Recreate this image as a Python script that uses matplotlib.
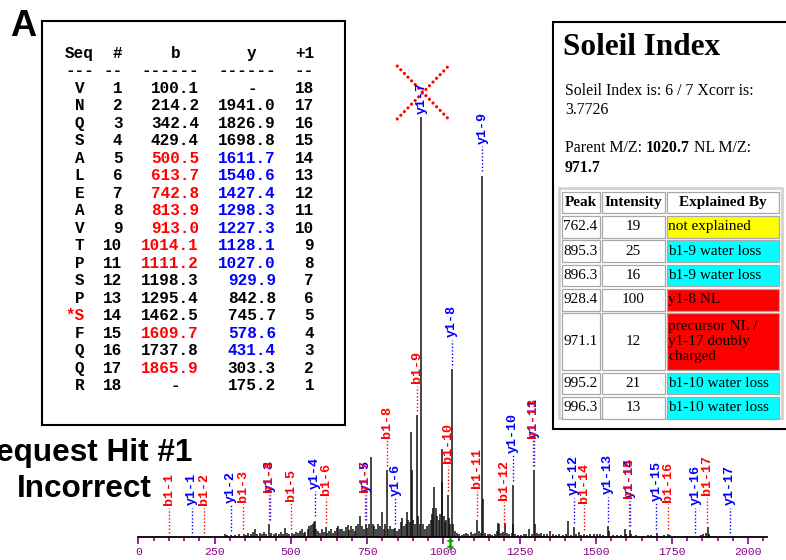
import matplotlib.pyplot as plt
from matplotlib.patches import Rectangle

W, H = 786, 560

# spectrum peaks: m/z and relative intensity (%)
peak_mz = [284, 292, 303, 318, 330, 345, 352, 360, 368, 375, 382, 390, 398, 405, 413, 420,
           429, 436, 445, 452, 460, 468, 475, 481, 488, 494, 503, 510, 517, 524, 530, 535,
           542, 548, 555, 560, 566, 571, 575, 579, 584, 590, 596, 602, 608, 614, 620, 626,
           632, 638, 644, 650, 656, 662, 668, 674, 680, 686, 692, 697, 703, 709, 715, 721,
           727, 733, 739, 745, 750, 756, 762.4, 768, 774, 780, 786, 792, 798, 804, 808, 814,
           820, 826, 832, 838, 843, 848, 854, 860, 866, 871, 876, 880, 885, 890, 895.3, 896.3,
           902, 907, 913, 918, 923, 928.4, 934, 940, 946, 952, 958, 962, 966, 971.1, 975, 980,
           985, 990, 995.2, 996.3, 1001, 1005, 1010, 1014, 1018, 1022, 1027, 1032, 1038, 1045,
           1052, 1060, 1068, 1075, 1082, 1090, 1098, 1105, 1111, 1116, 1122, 1128, 1131, 1138,
           1145, 1152, 1160, 1168, 1175, 1180, 1184, 1190, 1197, 1203, 1210, 1216, 1224, 1227,
           1230, 1236, 1245, 1255, 1264, 1272, 1282, 1290, 1298, 1301, 1308, 1315, 1322, 1330,
           1340, 1350, 1360, 1370, 1380, 1392, 1402, 1410, 1418, 1428, 1434, 1444, 1452, 1462,
           1472, 1482, 1494, 1505, 1515, 1525, 1541, 1545, 1556, 1570, 1583, 1596, 1600, 1612,
           1616, 1632, 1650, 1670, 1680, 1690, 1700, 1712, 1725, 1738, 1742, 1760, 1800, 1845,
           1852, 1862, 1869, 1873]
peak_int = [0.6, 0.4, 0.5, 0.4, 0.6, 0.8, 0.5, 1.0, 0.6, 1.2, 2.0, 0.8, 1.0, 0.6, 1.2, 0.8,
            3.0, 1.0, 0.7, 1.0, 0.8, 1.2, 0.8, 2.2, 1.0, 0.6, 1.0, 0.8, 1.2, 1.0, 1.5, 1.8,
            1.0, 1.2, 2.0, 2.5, 2.8, 3.2, 3.5, 3.9, 2.0, 1.4, 1.0, 1.8, 1.2, 2.4, 1.0, 1.5,
            2.0, 1.0, 1.4, 2.2, 2.6, 1.8, 2.0, 1.5, 2.4, 2.8, 1.6, 2.7, 2.0, 1.5, 2.5, 3.0,
            5.0, 2.7, 2.0, 3.0, 2.2, 3.0, 19, 3.0, 2.5, 2.0, 3.0, 2.5, 6.0, 2.0, 3.0, 16,
            2.0, 2.5, 1.8, 2.0, 2.2, 1.5, 2.0, 3.5, 4.5, 2.5, 3.0, 6.0, 4.0, 3.5, 25, 16,
            4.0, 3.0, 29, 5.0, 3.0, 100, 3.0, 2.0, 2.5, 3.0, 4.0, 5.5, 7.0, 12, 7.0, 5.0,
            4.0, 5.5, 21, 13, 5.0, 3.5, 4.0, 10, 4.5, 3.0, 40, 3.0, 1.5, 1.0,
            0.8, 0.5, 0.8, 1.0, 0.6, 1.2, 0.8, 1.0, 4.0, 1.5, 1.0, 86, 9.0, 1.0,
            0.6, 0.8, 0.5, 0.7, 1.5, 3.3, 3.0, 1.0, 1.3, 3.3, 1.0, 0.6, 1.0, 12.4,
            3.0, 0.8, 0.5, 0.4, 0.6, 0.8, 2.0, 0.8, 16, 3.0, 1.0, 0.8, 1.0, 0.6,
            0.8, 1.5, 0.6, 0.5, 0.7, 0.4, 0.6, 3.8, 0.5, 2.4, 0.8, 1.2, 0.5, 0.6,
            0.4, 0.6, 0.8, 0.6, 0.8, 0.5, 2.6, 1.5, 0.5, 0.4, 0.5, 2.0, 0.6, 1.6,
            0.8, 0.4, 0.3, 0.5, 0.4, 0.3, 1.0, 0.3, 0.4, 0.8, 0.5, 0.3, 0.3, 0.5,
            0.6, 1.0, 2.4, 0.6]

# fragment table
seq = ['V', 'N', 'Q', 'S', 'A', 'L', 'E', 'A', 'V', 'T', 'P', 'S', 'P', 'S', 'F', 'Q', 'Q', 'R']
b_ions = [100.1, 214.2, 342.4, 429.4, 500.5, 613.7, 742.8, 813.9, 913.0, 1014.1, 1111.2,
          1198.3, 1295.4, 1462.5, 1609.7, 1737.8, 1865.9, None]
y_ions = [None, 1941.0, 1826.9, 1698.8, 1611.7, 1540.6, 1427.4, 1298.3, 1227.3, 1128.1,
          1027.0, 929.9, 842.8, 745.7, 578.6, 431.4, 303.3, 175.2]
b_matched = [5, 6, 7, 8, 9, 10, 11, 15, 17]
y_matched = [5, 6, 7, 8, 9, 10, 11, 12, 15, 16]
phospho_site = 14
parent_mz = 1020.7

# soleil table
tbl_peak = ['762.4', '895.3', '896.3', '928.4', '971.1', '995.2', '996.3']
tbl_int = ['19', '25', '16', '100', '12', '21', '13']
tbl_expl = ['not explained', 'b1-9 water loss', 'b1-9 water loss', 'y1-8 NL',
            'precursor NL /\ny1-17 doubly\ncharged', 'b1-10 water loss', 'b1-10 water loss']
tbl_fill = ['#ffff00', '#00ffff', '#00ffff', '#ff0000', '#ff0000', '#00ffff', '#00ffff']

RED, BLUE, PURPLE = '#ff0000', '#0000ff', '#880088'
MONO, SERIF, SANS = 'Liberation Mono', 'Liberation Serif', 'Liberation Sans'

fig = plt.figure(figsize=(W / 100, H / 100), dpi=100)

# ---- spectrum ----
ax = fig.add_axes([138.4 / W, 23 / H, 628.3 / W, 497 / H])
ax.set_xlim(0, 2060.6)
ax.set_ylim(0, 118.3)
ax.vlines(peak_mz, 0, peak_int, color='#111111', lw=1.1)
for s in ['left', 'top', 'right']:
    ax.spines[s].set_visible(False)
ax.spines['bottom'].set_linewidth(1.3)
ax.set_yticks([])
ax.set_xticks(range(0, 2001, 250))
ax.set_xticks(range(0, 2051, 50), minor=True)
ax.tick_params(axis='x', which='major', length=5, width=1.2, color=PURPLE,
               labelcolor=PURPLE, labelsize=8.2, pad=2)
ax.tick_params(axis='x', which='minor', length=3, width=1.2, color=PURPLE)
for t in ax.get_xticklabels():
    t.set_fontfamily(MONO)

ax.annotate('‡', xy=(parent_mz, 0), xytext=(0, -5), textcoords='offset points',
            ha='center', va='center', color='#00a000', fontsize=10, fontweight='bold',
            annotation_clip=False)


def base_height(mz):
    near = [i for m, i in zip(peak_mz, peak_int) if abs(m - mz) <= 4]
    return max(near) if near else 0


ions = []
for n in range(1, 18):
    ions.append(('y1-%d' % n, y_ions[18 - n], BLUE))
for n in range(1, 18):
    ions.append(('b1-%d' % n, b_ions[n - 1], RED))

for name, mz, col in ions:
    h = base_height(mz)
    if h > 90:
        ax.text(mz, h + 0.8, name, rotation=90, ha='center', va='bottom', color=col,
                fontsize=9.6, fontfamily=MONO, fontweight='bold')
        cx, cy, dx, dy = mz + 3, h + 5.8, 84, 6.3
        for sgn in (1, -1):
            ax.plot([cx - dx, cx + dx], [cy - sgn * dy, cy + sgn * dy], color=RED, lw=2.3,
                    linestyle=(0, (0.01, 1.6)), dash_capstyle='round', clip_on=False)
    else:
        ax.plot([mz, mz], [h + 1.0, h + 7.0], color=col, lw=1.0, linestyle=(0, (1, 1.5)))
        ax.text(mz, h + 7.6, name, rotation=90, ha='center', va='bottom', color=col,
                fontsize=9.6, fontfamily=MONO, fontweight='bold')

# ---- overlay in pixel coordinates ----
ov = fig.add_axes([0, 0, 1, 1])
ov.set_xlim(0, W)
ov.set_ylim(H, 0)
ov.axis('off')

ov.text(23, 26, 'A', ha='center', va='center', fontsize=26, fontweight='bold', fontfamily=SANS)
ov.text(84, 453, 'Sequest Hit #1', ha='center', va='center', fontsize=22.7,
        fontweight='bold', fontfamily=SANS)
ov.text(84, 489, 'Incorrect', ha='center', va='center', fontsize=22.7,
        fontweight='bold', fontfamily=SANS)

# left fragment table
ov.add_patch(Rectangle((42, 21), 303, 404, fc='white', ec='black', lw=1.5))
cw, x0 = 9.58, 65
mono_kw = dict(fontsize=11.5, fontfamily=MONO, fontweight='bold', va='center')


def cx_(i):
    return x0 + i * cw


for txt, i in [('Seq', 0), ('#', 5), ('b', 11), ('y', 19), ('+1', 24)]:
    ov.text(cx_(i), 53.3, txt, ha='left', **mono_kw)
for txt, i in [('---', 0), ('--', 4), ('------', 8), ('------', 16), ('--', 24)]:
    ov.text(cx_(i), 70.8, txt, ha='left', **mono_kw)

for r in range(18):
    y = 88.3 + 17.5 * r
    num = r + 1
    aa = '*' + seq[r] if num == phospho_site else seq[r]
    ov.text(cx_(2), y, aa, ha='right', color=RED if num == phospho_site else 'black', **mono_kw)
    ov.text(cx_(6), y, str(num), ha='right', **mono_kw)
    if b_ions[r] is None:
        ov.text(cx_(11), y, '-', ha='left', **mono_kw)
    else:
        ov.text(cx_(14), y, '%.1f' % b_ions[r], ha='right',
                color=RED if num in b_matched else 'black', **mono_kw)
    if y_ions[r] is None:
        ov.text(cx_(19), y, '-', ha='left', **mono_kw)
    else:
        ov.text(cx_(22), y, '%.1f' % y_ions[r], ha='right',
                color=BLUE if num in y_matched else 'black', **mono_kw)
    ov.text(cx_(26), y, str(19 - num), ha='right', **mono_kw)

# right Soleil box
ov.add_patch(Rectangle((553, 21.7), 250, 407.3, fc='white', ec='black', lw=1.5))
ov.text(563, 55, 'Soleil Index', ha='left', va='baseline', fontsize=22.5,
        fontweight='bold', fontfamily=SERIF)
skw = dict(fontsize=11.4, fontfamily=SERIF, va='baseline')
ov.text(565, 95, 'Soleil Index is: 6 / 7 Xcorr is:', ha='left', **skw)
ov.text(565, 114.3, '3.7726', ha='left', **skw)
t1 = ov.text(565, 151.7, 'Parent M/Z: ', ha='left', **skw)
t2 = ov.annotate('%.1f' % parent_mz, xy=(1, 0), xycoords=t1, ha='left', va='bottom',
                 fontsize=11.4, fontfamily=SERIF, fontweight='bold')
ov.annotate(' NL M/Z:', xy=(1, 0), xycoords=t2, ha='left', va='bottom',
            fontsize=11.4, fontfamily=SERIF)
ov.text(565, 171.7, '971.7', ha='left', fontweight='bold', **skw)

# inner html-like table
cols = [(561.7, 38.3), (601.7, 63.3), (667, 112)]
ov.add_patch(Rectangle((559.3, 188.3), 222.4, 229.7, fc='none', ec='#d6d2c6', lw=2))
row_lines = [1] + [e.count('\n') + 1 for e in tbl_expl]
ytop = 191.7
rows_y = []
for nl in row_lines:
    hgt = 4.2 + 17.5 * nl
    rows_y.append((ytop, hgt))
    ytop += hgt + 2.6

ckw = dict(fontsize=11, fontfamily=SERIF, va='center')
for ci, (x, w) in enumerate(cols):
    top, hgt = rows_y[0]
    ov.add_patch(Rectangle((x, top), w, hgt, fc='white', ec='#a8a8a8', lw=0.9))
    ov.text(x + w / 2, top + hgt / 2, ['Peak', 'Intensity', 'Explained By'][ci],
            ha='center', fontweight='bold', **ckw)
for r in range(len(tbl_peak)):
    top, hgt = rows_y[r + 1]
    ym = top + hgt / 2
    (xa, wa), (xb, wb), (xc, wc) = cols
    ov.add_patch(Rectangle((xa, top), wa, hgt, fc='white', ec='#a8a8a8', lw=0.9))
    ov.add_patch(Rectangle((xb, top), wb, hgt, fc='white', ec='#a8a8a8', lw=0.9))
    ov.add_patch(Rectangle((xc, top), wc, hgt, fc=tbl_fill[r], ec='#a8a8a8', lw=0.9))
    ov.text(xa + 1.5, ym, tbl_peak[r], ha='left', **ckw)
    ov.text(xb + wb / 2, ym, tbl_int[r], ha='center', **ckw)
    ov.text(xc + 1.5, ym, tbl_expl[r], ha='left', linespacing=1.17, **ckw)

fig.savefig('out.png', dpi=100)
